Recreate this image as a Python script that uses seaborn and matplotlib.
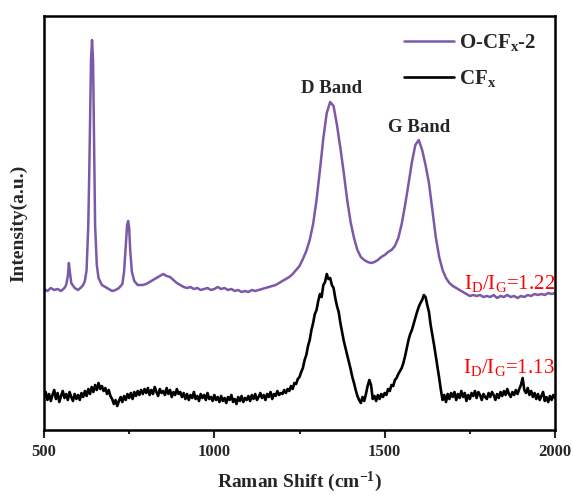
import matplotlib
matplotlib.use("Agg")
import matplotlib.pyplot as plt
import seaborn as sns
import pandas as pd
from matplotlib.ticker import MultipleLocator

# ---------------- data ----------------
ocf_x = [500, 510, 520, 530, 540, 550, 560, 565, 570, 573, 576, 580, 590, 600, 610, 615, 620, 625,
         630, 633, 636, 638, 641, 644, 647, 650, 655, 660, 670, 680, 690, 700, 710, 720, 730, 735,
         740, 744, 747, 750, 753, 758, 765, 775, 790, 800, 810, 820, 830, 840, 850, 860, 870, 880,
         890, 900, 910, 920, 930, 940, 950, 960, 970, 980, 990, 1000, 1010, 1020, 1030, 1040, 1050,
         1060, 1070, 1080, 1090, 1100, 1110, 1120, 1130, 1140, 1150, 1160, 1170, 1180, 1190, 1200,
         1210, 1220, 1230, 1240, 1250, 1260, 1270, 1280, 1290, 1300, 1310, 1320, 1330, 1340, 1350,
         1360, 1370, 1380, 1390, 1400, 1410, 1420, 1430, 1440, 1450, 1460, 1470, 1480, 1490, 1500,
         1510, 1520, 1530, 1540, 1550, 1560, 1570, 1580, 1590, 1600, 1610, 1620, 1630, 1640, 1650,
         1660, 1670, 1680, 1690, 1700, 1710, 1720, 1730, 1740, 1750, 1760, 1770, 1780, 1790, 1800,
         1810, 1820, 1830, 1840, 1850, 1860, 1870, 1880, 1890, 1900, 1910, 1920, 1930, 1940, 1950,
         1960, 1970, 1980, 1990, 2000]
ocf_y = [141, 139, 142, 140, 141, 139, 142, 145, 154, 167, 158, 147, 142, 140, 143, 145, 149, 160,
         205, 260, 330, 370, 390, 370, 290, 205, 165, 152, 145, 143, 141, 139, 140, 142, 146, 158,
         185, 205, 209, 202, 180, 158, 149, 145, 145, 146, 148, 150, 152, 154, 156, 154, 153, 150,
         147, 145, 143, 142, 143, 141, 142, 140, 141, 142, 140, 141, 143, 141, 142, 140, 141,
         139, 140, 138, 139, 138, 140, 139, 140, 141, 142, 143, 144, 145, 147, 149,
         151, 153, 156, 160, 164, 171, 179, 190, 206, 230, 260, 292, 317, 328, 324,
         305, 282, 257, 230, 208, 192, 180, 173, 170, 168, 167, 168, 170, 173, 175,
         178, 180, 184, 192, 206, 225, 246, 268, 285, 290, 280, 265, 247, 220, 193,
         173, 160, 152, 147, 144, 142, 140, 138, 136, 134, 135, 134, 135, 133, 134,
         133, 135, 132, 134, 133, 135, 133, 134, 132, 134, 133, 135, 134, 136, 135,
         136, 135, 137, 136, 137]

cf_x = list(range(500, 2001, 5))
cf_y = [33, 38, 30, 36, 29, 35, 40, 31, 37, 28, 34, 39, 32, 36, 30, 38, 33, 29, 36, 31,
        35, 30, 37, 33, 39, 34, 41, 36, 43, 38, 45, 40, 47, 41, 44, 39, 42, 36, 40, 34,
        31, 26, 30, 24, 29, 33, 28, 34, 30, 36, 32, 37, 31, 38, 34, 39, 35, 40, 36, 41,
        37, 42, 35, 40, 36, 43, 38, 34, 41, 37, 39, 35, 42, 36, 40, 33, 38, 35, 41, 36,
        38, 33, 37, 31, 36, 30, 35, 32, 38, 31, 34, 29, 36, 32, 35, 30, 37, 31, 33, 29,
        35, 30, 33, 28, 34, 29, 32, 27, 33, 30, 35, 28, 31, 26, 33, 29, 34, 28, 32, 30,
        34, 29, 35, 31, 36, 30, 33, 37, 32, 35, 30, 36, 33, 38, 31, 36, 34, 39, 35, 37,
        36, 40, 37, 41, 39, 44, 41, 47, 46, 51, 53, 58, 62, 70, 75, 84, 90, 100, 107, 116,
        120, 129, 136, 133, 145, 148, 156, 151, 152, 145, 142, 132, 124, 118, 107, 98, 89, 82, 75, 68,
        61, 53, 47, 40, 34, 30, 27, 33, 29, 36, 44, 50, 45, 31, 34, 29, 35, 31, 36, 33,
        37, 35, 41, 39, 45, 44, 50, 52, 56, 59, 62, 67, 74, 82, 90, 96, 100, 106, 112, 118,
        123, 127, 130, 135, 133, 125, 118, 105, 95, 85, 74, 63, 52, 40, 30, 35, 28, 36, 31, 37,
        33, 38, 30, 36, 32, 39, 33, 37, 29, 35, 31, 37, 34, 39, 32, 38, 35, 30, 36, 33,
        31, 37, 33, 38, 35, 30, 36, 32, 38, 34, 39, 35, 41, 36, 33, 38, 35, 40, 36, 41,
        45, 52, 40, 37, 42, 35, 39, 33, 37, 31, 36, 30, 34, 38, 29, 33, 28, 34, 30, 35,
        32]

series_labels = ["O-CF$_{\\mathbf{x}}$-2", "CF$_{\\mathbf{x}}$"]
band_labels = ["D Band", "G Band"]
ratio_labels = ["I$_{\\mathrm{D}}$/I$_{\\mathrm{G}}$=1.22", "I$_{\\mathrm{D}}$/I$_{\\mathrm{G}}$=1.13"]
x_ticks = [500, 1000, 1500, 2000]

# ---------------- style ----------------
sns.set_style("ticks")
plt.rcParams["font.family"] = ["Liberation Serif", "DejaVu Serif"]
plt.rcParams["mathtext.fontset"] = "custom"
plt.rcParams["mathtext.rm"] = "Liberation Serif"
plt.rcParams["mathtext.bf"] = "Liberation Serif:bold"
plt.rcParams["mathtext.it"] = "Liberation Serif:italic"

purple = "#7B58A8"

fig = plt.figure(figsize=(5.73, 4.98), dpi=100)
ax = fig.add_axes([44 / 573, 1 - 430 / 498, (555 - 44) / 573, (430 - 16) / 498])

df_o = pd.DataFrame({"shift": ocf_x, "intensity": ocf_y})
df_c = pd.DataFrame({"shift": cf_x, "intensity": cf_y})
sns.lineplot(data=df_o, x="shift", y="intensity", ax=ax, color=purple, lw=1.8,
             label=series_labels[0], sort=False)
sns.lineplot(data=df_c, x="shift", y="intensity", ax=ax, color="black", lw=1.9,
             label=series_labels[1], sort=False)

ax.set_xlim(500, 2000)
ax.set_ylim(0, 414)
ax.set_xticks(x_ticks)
ax.set_xticklabels([str(t) for t in x_ticks], fontsize=12, fontweight="bold")
ax.xaxis.set_minor_locator(MultipleLocator(250))
ax.tick_params(axis="x", which="major", direction="out", length=6, width=1.5, pad=4)
ax.tick_params(axis="x", which="minor", direction="out", length=3, width=1.5)
ax.set_yticks([])
for s in ax.spines.values():
    s.set_linewidth(1.8)
    s.set_color("black")

ax.set_xlabel("Raman Shift (cm$^{\\mathbf{-1}}$)", fontsize=14, fontweight="bold", labelpad=7)
ax.set_ylabel("Intensity(a.u.)", fontsize=14, fontweight="bold", labelpad=12)

# band annotations
ax.text(1343, 342, band_labels[0], fontsize=13.5, fontweight="bold", ha="center", va="center")
ax.text(1600, 303, band_labels[1], fontsize=13.5, fontweight="bold", ha="center", va="center")
ax.text(2000, 147, ratio_labels[0], fontsize=15, color="red", ha="right", va="center")
ax.text(2000, 63, ratio_labels[1], fontsize=15, color="red", ha="right", va="center")

leg = ax.legend(loc="upper left", bbox_to_anchor=(394 / 573, 1 - 22 / 498),
                bbox_transform=fig.transFigure, frameon=False,
                prop={"family": "Liberation Serif", "weight": "bold", "size": 15},
                handlelength=2.4, handletextpad=0.2, labelspacing=0.7, borderpad=0)

fig.savefig("out.png", dpi=100)
